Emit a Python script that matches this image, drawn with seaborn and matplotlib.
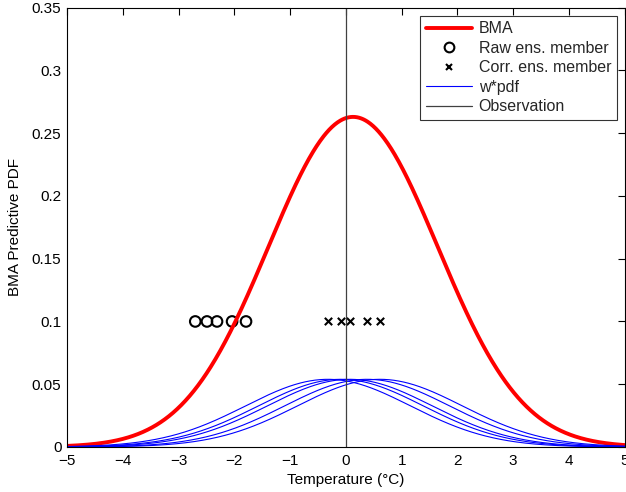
import numpy as np
import pandas as pd
import matplotlib
matplotlib.use("Agg")
import matplotlib.pyplot as plt
import seaborn as sns

# Data
raw_members = [-2.70, -2.49, -2.31, -2.04, -1.79]
corr_members = [-0.32, -0.09, 0.07, 0.38, 0.61]
weights = [0.2, 0.2, 0.2, 0.2, 0.2]
sigma = 1.48
observation = 0.0
member_level = 0.1

x_ticks = [-5, -4, -3, -2, -1, 0, 1, 2, 3, 4, 5]
y_ticks = [0, 0.05, 0.1, 0.15, 0.2, 0.25, 0.3, 0.35]
y_tick_labels = ["0", "0.05", "0.1", "0.15", "0.2", "0.25", "0.3", "0.35"]

sns.set_theme(style="white")
plt.rcParams['font.family'] = ['Liberation Sans', 'DejaVu Sans']

xs = np.linspace(-5, 5, 801)
comp = []
for m, w in zip(corr_members, weights):
    pdf = w * np.exp(-0.5 * ((xs - m) / sigma) ** 2) / (sigma * np.sqrt(2 * np.pi))
    comp.append(pd.DataFrame({"x": xs, "y": pdf, "member": m}))
comp_df = pd.concat(comp, ignore_index=True)
bma_df = comp_df.groupby("x", as_index=False)["y"].sum()

fig = plt.figure(figsize=(6.26, 4.92), dpi=100)
ax = fig.add_axes([0.107, 0.0915, 0.891, 0.893])

sns.lineplot(data=bma_df, x="x", y="y", color="#ff0000", lw=2.8, ax=ax, label="BMA")
ax.plot([], [], "o", mfc="none", mec="black", mew=1.5, ms=7, label="Raw ens. member")
ax.plot([], [], "x", color="black", mew=1.5, ms=5, label="Corr. ens. member")
ax.plot([], [], color="#0000ff", lw=0.8, label="w*pdf")
ax.plot([], [], color="#404040", lw=0.9, label="Observation")

sns.scatterplot(x=raw_members, y=[member_level] * len(raw_members), marker="o",
                facecolors="none", edgecolor="black", linewidth=1.5, s=58, ax=ax, legend=False)
sns.scatterplot(x=corr_members, y=[member_level] * len(corr_members), marker="x",
                color="black", linewidth=1.5, s=28, ax=ax, legend=False)
for m in corr_members:
    d = comp_df[comp_df["member"] == m]
    ax.plot(d["x"], d["y"], color="#0000ff", lw=0.8)
ax.axvline(observation, color="#404040", lw=0.9)

ax.set_xlim(-5, 5)
ax.set_ylim(0, 0.35)
ax.set_xticks(x_ticks)
ax.set_xticklabels([str(t).replace("-", "\u2212") for t in x_ticks])
ax.set_yticks(y_ticks)
ax.set_yticklabels(y_tick_labels)
ax.tick_params(direction="in", length=5, width=0.8, top=True, right=True,
               labelsize=11, colors="black")
ax.tick_params(axis="y", pad=4)
ax.tick_params(axis="x", pad=5)
for s in ax.spines.values():
    s.set_color("black")
    s.set_linewidth(0.8)
ax.set_xlabel("Temperature (\u00b0C)", fontsize=11, color="black", labelpad=4)
ax.set_ylabel("BMA Predictive PDF", fontsize=11, color="black", labelpad=7)

leg = ax.legend(loc="upper right", fontsize=11.5, frameon=True, fancybox=False,
                edgecolor="black", borderaxespad=0.5, handlelength=2.9,
                handletextpad=0.4, labelspacing=0.28, borderpad=0.35)
leg.get_frame().set_linewidth(0.8)

fig.savefig("out.png", dpi=100)
